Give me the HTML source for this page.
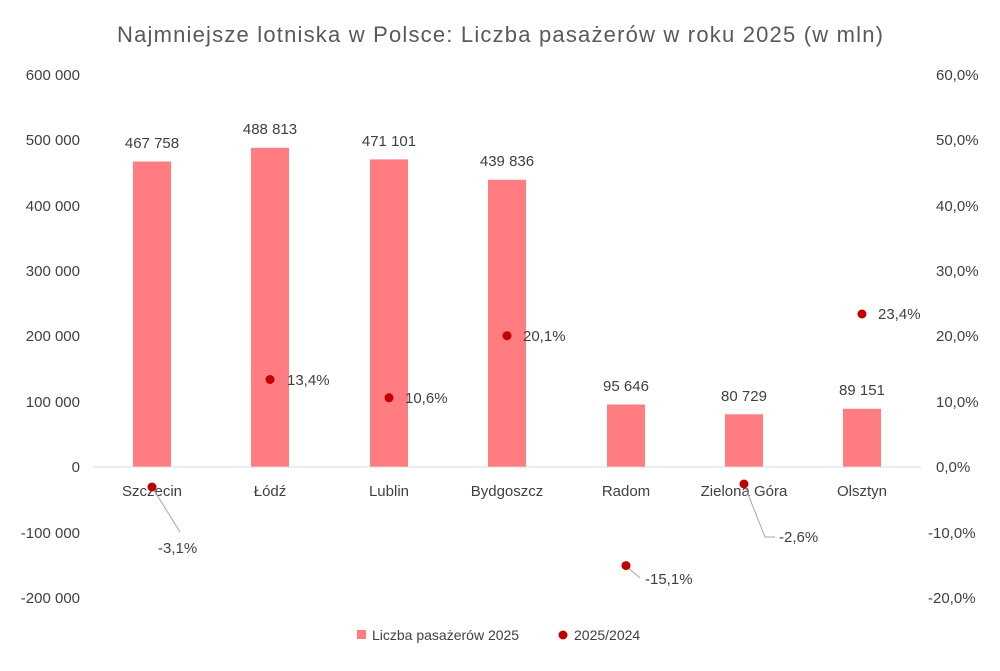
<!DOCTYPE html>
<html><head><meta charset="utf-8"><style>
body{margin:0;background:#fff}
svg text{font-family:"Liberation Sans",sans-serif;fill:#404040}
</style></head><body>
<svg width="1000" height="666" viewBox="0 0 1000 666" xmlns="http://www.w3.org/2000/svg">
<rect width="1000" height="666" fill="#fff"/>
<text x="500" y="42" text-anchor="middle" font-size="22" textLength="766" lengthAdjust="spacing" style="fill:#595959">Najmniejsze lotniska w Polsce: Liczba pasażerów w roku 2025 (w mln)</text>
<g font-size="15" text-anchor="end">
<text x="80" y="80">600 000</text><text x="80" y="145">500 000</text><text x="80" y="211">400 000</text>
<text x="80" y="276">300 000</text><text x="80" y="341">200 000</text><text x="80" y="407">100 000</text>
<text x="80" y="472">0</text><text x="80" y="538">-100 000</text><text x="80" y="603">-200 000</text>
</g>
<g font-size="15" text-anchor="start">
<text x="936" y="80">60,0%</text><text x="936" y="145">50,0%</text><text x="936" y="211">40,0%</text>
<text x="936" y="276">30,0%</text><text x="936" y="341">20,0%</text><text x="936" y="407">10,0%</text>
<text x="936" y="472">0,0%</text><text x="928" y="538">-10,0%</text><text x="928" y="603">-20,0%</text>
</g>
<g fill="#ff7c80">
<rect x="133" y="161.5" width="38" height="305.5"/>
<rect x="251" y="147.8" width="38" height="319.2"/>
<rect x="370" y="159.4" width="38" height="307.6"/>
<rect x="488" y="179.8" width="38" height="287.2"/>
<rect x="607" y="404.5" width="38" height="62.5"/>
<rect x="725" y="414.3" width="38" height="52.7"/>
<rect x="843" y="408.8" width="38" height="58.2"/>
</g>
<line x1="93" y1="467" x2="921" y2="467" stroke="#d9d9d9" stroke-width="1"/>
<g font-size="15" text-anchor="middle">
<text x="152" y="148">467 758</text><text x="270" y="134">488 813</text><text x="389" y="146">471 101</text>
<text x="507" y="166">439 836</text><text x="626" y="391">95 646</text><text x="744" y="401">80 729</text>
<text x="862" y="395">89 151</text>
<text x="152" y="496">Szczecin</text><text x="270" y="496">Łódź</text><text x="389" y="496">Lublin</text>
<text x="507" y="496">Bydgoszcz</text><text x="626" y="496">Radom</text><text x="744" y="496">Zielona Góra</text>
<text x="862" y="496">Olsztyn</text>
</g>
<g stroke="#a6a6a6" fill="none" stroke-width="1">
<polyline points="152,487 180,532"/>
<polyline points="744,484 765,537 775,537"/>
<polyline points="626,566 640,578"/>
</g>
<g fill="#c00000">
<circle cx="152" cy="487" r="4.5"/><circle cx="270" cy="379.5" r="4.5"/><circle cx="389" cy="397.8" r="4.5"/>
<circle cx="507" cy="335.7" r="4.5"/><circle cx="626" cy="565.6" r="4.5"/><circle cx="744" cy="484" r="4.5"/>
<circle cx="862" cy="314" r="4.5"/>
</g>
<g font-size="15">
<text x="158" y="553">-3,1%</text><text x="287" y="385">13,4%</text><text x="405" y="403">10,6%</text>
<text x="523" y="341">20,1%</text><text x="645" y="584">-15,1%</text><text x="779" y="542">-2,6%</text>
<text x="878" y="319">23,4%</text>
</g>
<rect x="357" y="630" width="9" height="9" fill="#ff7c80"/>
<text x="372" y="640" font-size="14">Liczba pasażerów 2025</text>
<circle cx="563" cy="635" r="4.5" fill="#c00000"/>
<text x="574" y="640" font-size="14">2025/2024</text>
</svg>
</body></html>
